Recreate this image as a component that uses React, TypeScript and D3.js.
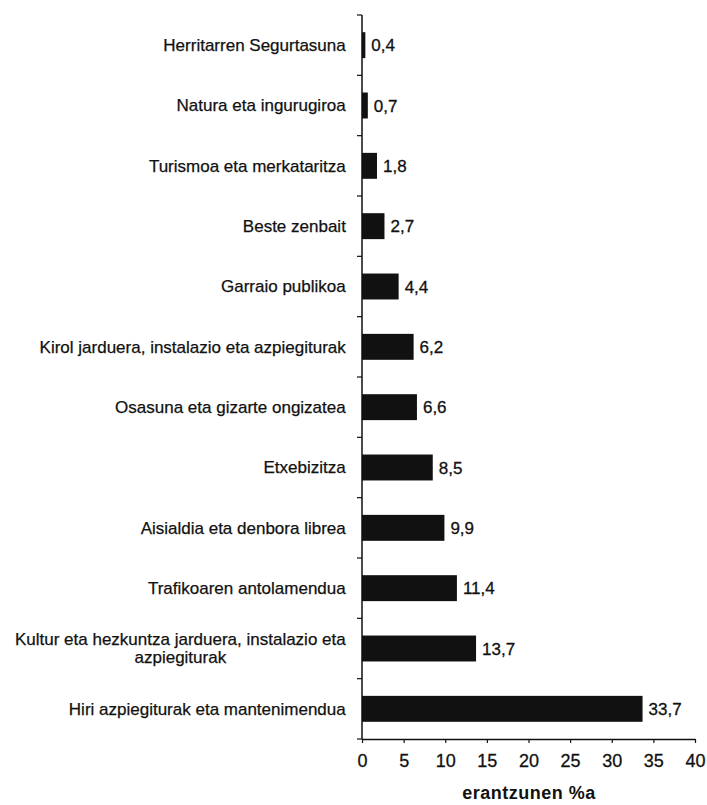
import React, { useRef, useEffect } from 'react';
import * as d3 from 'd3';

const categories: string[] = [
  'Herritarren Segurtasuna',
  'Natura eta ingurugiroa',
  'Turismoa eta merkataritza',
  'Beste zenbait',
  'Garraio publikoa',
  'Kirol jarduera, instalazio eta azpiegiturak',
  'Osasuna eta gizarte ongizatea',
  'Etxebizitza',
  'Aisialdia eta denbora librea',
  'Trafikoaren antolamendua',
  'Kultur eta hezkuntza jarduera, instalazio eta|azpiegiturak',
  'Hiri azpiegiturak eta mantenimendua',
];
const values: number[] = [0.4, 0.7, 1.8, 2.7, 4.4, 6.2, 6.6, 8.5, 9.9, 11.4, 13.7, 33.7];
const xTicks: number[] = [0, 5, 10, 15, 20, 25, 30, 35, 40];
const axisTitle = 'erantzunen %a';

const W = 707;
const H = 805;
const FONT = 'Arial, "Liberation Sans", Helvetica, sans-serif';
const INK = '#111';

const BarChart = () => {
  const svgRef = useRef<SVGSVGElement>(null);

  useEffect(() => {
    const svg = d3.select(svgRef.current);
    svg.selectAll('*').remove();

    const left = 362;
    const right = 695;
    const top = 15;
    const bottom = 739;

    const x = d3.scaleLinear().domain([0, 40]).range([left, right]);
    const y = d3.scaleBand<number>()
      .domain(d3.range(categories.length))
      .range([top, bottom])
      .paddingInner(0.57)
      .paddingOuter(0.285);

    const g = svg.append('g');

    // bars
    g.selectAll('rect.bar')
      .data(values)
      .enter()
      .append('rect')
      .attr('class', 'bar')
      .attr('x', x(0))
      .attr('y', (_d, i) => y(i)!)
      .attr('width', d => x(d) - x(0))
      .attr('height', y.bandwidth())
      .attr('fill', INK);

    // value labels
    g.selectAll('text.val')
      .data(values)
      .enter()
      .append('text')
      .attr('class', 'val')
      .attr('x', d => x(d) + 6)
      .attr('y', (_d, i) => y(i)! + y.bandwidth() / 2)
      .attr('dy', '0.36em')
      .style('font-family', FONT)
      .style('font-size', '17px')
      .style('fill', INK)
      .style('stroke', INK)
      .style('stroke-width', 0.3)
      .text(d => String(d).replace('.', ','));

    // category labels
    categories.forEach((c, i) => {
      const lines = c.split('|');
      const cy = y(i)! + y.bandwidth() / 2;
      const lh = 18;
      const t = g.append('text')
        .attr('text-anchor', 'middle')
        .style('font-family', FONT)
        .style('font-size', '17px')
        .style('fill', INK)
        .style('stroke', INK)
        .style('stroke-width', 0.25);
      lines.forEach((ln, k) => {
        t.append('tspan')
          .attr('x', 0)
          .attr('y', cy + (k - (lines.length - 1) / 2) * lh)
          .attr('dy', '0.35em')
          .text(ln);
      });
      // right align whole block, centre lines inside it
      const bb = (t.node() as SVGTextElement).getBBox();
      const cx = 346 - bb.width / 2;
      t.selectAll('tspan').attr('x', cx);
    });

    // y axis with boundary ticks
    const yAxis = g.append('g');
    yAxis.append('line')
      .attr('x1', left).attr('x2', left)
      .attr('y1', top).attr('y2', bottom)
      .attr('stroke', INK).attr('stroke-width', 1.5);
    d3.range(categories.length + 1).forEach(i => {
      const yy = top + (i * (bottom - top)) / categories.length;
      yAxis.append('line')
        .attr('x1', left - 5).attr('x2', left)
        .attr('y1', yy).attr('y2', yy)
        .attr('stroke', INK).attr('stroke-width', 1.2);
    });

    // x axis
    const xAxis = g.append('g').attr('transform', `translate(0,${bottom})`)
      .call(d3.axisBottom(x).tickValues(xTicks).tickSize(4).tickSizeOuter(0).tickFormat(d => String(d)));
    xAxis.select('.domain').attr('stroke', INK).attr('stroke-width', 1.5);
    xAxis.selectAll('.tick line').attr('stroke', INK).attr('stroke-width', 1.2);
    xAxis.selectAll('.tick text')
      .attr('y', 15)
      .style('font-family', FONT)
      .style('font-size', '18px')
      .style('fill', INK)
      .style('stroke', INK)
      .style('stroke-width', 0.3);

    // axis title
    g.append('text')
      .attr('x', 529)
      .attr('y', 799)
      .attr('text-anchor', 'middle')
      .style('font-family', FONT)
      .style('font-size', '18px')
      .style('font-weight', 'bold')
      .style('letter-spacing', '0.5px')
      .style('fill', INK)
      .text(axisTitle);
  }, []);

  return (
    <svg
      ref={svgRef}
      width={W}
      height={H}
      style={{ position: 'absolute', left: 0, top: 0, background: 'white', display: 'block' }}
    />
  );
};

export default function App() {
  return <BarChart />;
}
